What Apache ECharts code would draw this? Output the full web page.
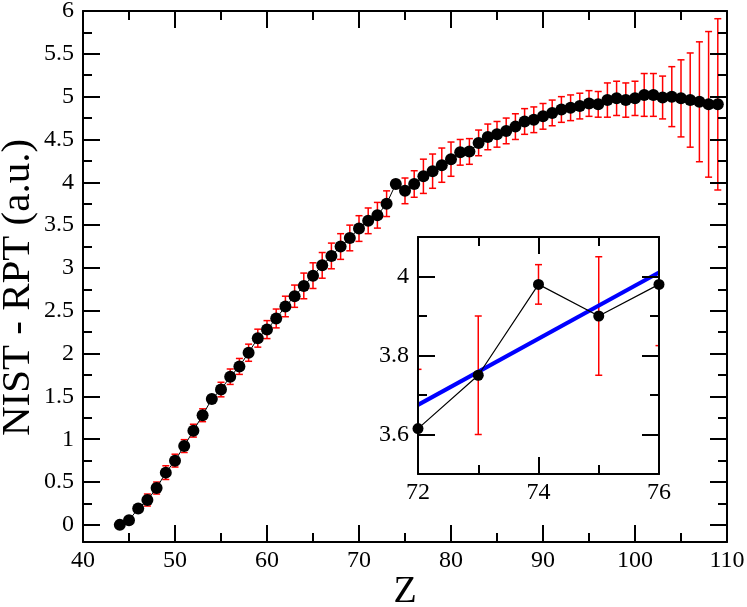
<!DOCTYPE html>
<html>
<head>
<meta charset="utf-8">
<script src="https://cdn.jsdelivr.net/npm/echarts@6/dist/echarts.min.js"></script>
<style>
  html, body { margin: 0; padding: 0; background: #fff; }
  #main { width: 747px; height: 607px; }
</style>
</head>
<body>
<div id="main"></div>
<script>
// atomic number Z and NIST - RPT difference, with error bars
var zValues = [44, 45, 46, 47, 48, 49, 50, 51, 52, 53, 54, 55, 56, 57, 58, 59, 60, 61, 62, 63,
  64, 65, 66, 67, 68, 69, 70, 71, 72, 73, 74, 75, 76, 77, 78, 79, 80, 81, 82, 83,
  84, 85, 86, 87, 88, 89, 90, 91, 92, 93, 94, 95, 96, 97, 98, 99, 100, 101, 102, 103,
  104, 105, 106, 107, 108, 109];
var diffValues = [0.00, 0.055, 0.19, 0.29, 0.43, 0.61, 0.75, 0.92, 1.10, 1.28, 1.47, 1.58, 1.73, 1.85, 2.01, 2.18, 2.28, 2.41, 2.55, 2.67,
  2.79, 2.91, 3.03, 3.14, 3.25, 3.35, 3.46, 3.55, 3.615, 3.75, 3.98, 3.90, 3.98, 4.07, 4.13, 4.20, 4.27, 4.35, 4.36, 4.46,
  4.53, 4.56, 4.60, 4.65, 4.71, 4.73, 4.77, 4.81, 4.85, 4.87, 4.89, 4.92, 4.91, 4.96, 4.98, 4.96, 4.98, 5.02, 5.02, 4.99,
  5.00, 4.98, 4.96, 4.94, 4.91, 4.91];
var errValues = [0, 0.02, 0.04, 0.07, 0.07, 0.08, 0.075, 0.075, 0.075, 0.075, 0.03, 0.085, 0.09, 0.093, 0.10, 0.105, 0.105, 0.11, 0.12, 0.13,
  0.15, 0.15, 0.15, 0.15, 0.15, 0.15, 0.15, 0.15, 0.15, 0.15, 0.05, 0.15, 0.155, 0.20, 0.20, 0.20, 0.20, 0.15, 0.15, 0.15,
  0.15, 0.15, 0.15, 0.15, 0.15, 0.15, 0.15, 0.15, 0.15, 0.15, 0.15, 0.15, 0.15, 0.20, 0.20, 0.20, 0.20, 0.25, 0.25, 0.25,
  0.35, 0.45, 0.55, 0.70, 0.85, 1.00];

// inset: zoom on Z = 72..76 with a linear fit
var insetRange = [72, 76];
var fitZ = [72, 76];
var fitValues = [3.675, 4.01];

// axis ranges and tick positions
var mainXRange = [40, 110];
var mainYRange = [-0.2, 6];
var insetYRange = [3.5, 4.1];
var mainXTicks = [40, 50, 60, 70, 80, 90, 100, 110];
var mainYMajor = [0, 0.5, 1, 1.5, 2, 2.5, 3, 3.5, 4, 4.5, 5, 5.5, 6];
var mainYMinor = [0.25, 0.75, 1.25, 1.75, 2.25, 2.75, 3.25, 3.75, 4.25, 4.75, 5.25, 5.75];
var insetXTicks = [72, 74, 76];
var insetYMajor = [3.6, 3.8, 4.0];
var insetYMinor = [3.5, 3.7, 3.9, 4.1];

var FONT = 'Liberation Serif';

var points = [], errPoints = [], insetPoints = [], insetErr = [];
for (var i = 0; i < zValues.length; i++) {
  points.push([zValues[i], diffValues[i]]);
  errPoints.push([zValues[i], diffValues[i], errValues[i]]);
  if (zValues[i] >= insetRange[0] && zValues[i] <= insetRange[1]) {
    insetPoints.push([zValues[i], diffValues[i]]);
    insetErr.push([zValues[i], diffValues[i], errValues[i]]);
  }
}
var fitLine = fitZ.map(function (z, k) { return [z, fitValues[k]]; });

function renderErr(params, api) {
  var x = api.value(0), y = api.value(1), e = api.value(2);
  if (!e) return null;
  var hi = api.coord([x, y + e]);
  var lo = api.coord([x, y - e]);
  var w = 3.5;
  var st = { stroke: '#ff0000', lineWidth: 1.5 };
  return {
    type: 'group',
    children: [
      { type: 'line', shape: { x1: hi[0], y1: hi[1], x2: lo[0], y2: lo[1] }, style: st },
      { type: 'line', shape: { x1: hi[0] - w, y1: hi[1], x2: hi[0] + w, y2: hi[1] }, style: st },
      { type: 'line', shape: { x1: lo[0] - w, y1: lo[1], x2: lo[0] + w, y2: lo[1] }, style: st }
    ]
  };
}

// tick labels drawn as text at axis coordinates (serif digits)
function tickLabelRender(dir) {
  return function (params, api) {
    var p = api.coord([api.value(0), api.value(1)]);
    var v = dir === 'x' ? api.value(0) : api.value(1);
    return {
      type: 'text',
      x: dir === 'x' ? p[0] : p[0] - 9,
      y: dir === 'x' ? p[1] + 19 : p[1],
      style: {
        text: String(v), fontFamily: FONT, fontSize: 24, fill: '#000',
        align: dir === 'x' ? 'center' : 'right', verticalAlign: 'middle'
      }
    };
  };
}

var axisLine = { onZero: false, lineStyle: { color: '#000', width: 2 } };

function xAx(grid, pos, min, max, interval) {
  return {
    type: 'value', gridIndex: grid, position: pos, min: min, max: max, interval: interval,
    z: 5,
    axisLine: axisLine,
    axisTick: { inside: true, length: 17, lineStyle: { color: '#000', width: 2 } },
    minorTick: { show: true, splitNumber: 2, length: 9, lineStyle: { color: '#000', width: 2 } },
    axisLabel: { show: false },
    splitLine: { show: false },
    minorSplitLine: { show: false }
  };
}

function yAx(grid, pos, range, ticks, major) {
  return {
    type: 'value', gridIndex: grid, position: pos, min: range[0], max: range[1],
    z: 5,
    axisLine: major ? axisLine : { show: false, onZero: false },
    axisTick: { inside: true, length: major ? 17 : 9, customValues: ticks, lineStyle: { color: '#000', width: 2 } },
    axisLabel: { show: false },
    splitLine: { show: false }
  };
}

var xMain = xAx(0, 'bottom', mainXRange[0], mainXRange[1], 10);
xMain.name = 'Z';
xMain.nameLocation = 'middle';
xMain.nameGap = 31;
xMain.nameTextStyle = { color: '#000', fontFamily: FONT, fontSize: 38 };

var yMain = yAx(0, 'left', mainYRange, mainYMajor, true);
yMain.name = 'NIST - RPT (a.u.)';
yMain.nameLocation = 'middle';
yMain.nameRotate = 90;
yMain.nameGap = 44;
yMain.nameTextStyle = { color: '#000', fontFamily: FONT, fontSize: 41, padding: [0, 22, 0, 0] };

var chart = echarts.init(document.getElementById('main'));
chart.setOption({
  animation: false,
  backgroundColor: '#fff',
  grid: [
    { left: 83, right: 20, top: 11, bottom: 65, containLabel: false, outerBoundsMode: 'none' },
    { left: 418, top: 237, width: 241, height: 237, show: true, backgroundColor: '#fff', borderWidth: 0, z: 1,
      containLabel: false, outerBoundsMode: 'none' }
  ],
  xAxis: [
    xMain,
    xAx(0, 'top', mainXRange[0], mainXRange[1], 10),
    xAx(1, 'bottom', insetRange[0], insetRange[1], 2),
    xAx(1, 'top', insetRange[0], insetRange[1], 2)
  ],
  yAxis: [
    yMain,
    yAx(0, 'left', mainYRange, mainYMinor, false),
    yAx(0, 'right', mainYRange, mainYMajor, true),
    yAx(0, 'right', mainYRange, mainYMinor, false),
    yAx(1, 'left', insetYRange, insetYMajor, true),
    yAx(1, 'left', insetYRange, insetYMinor, false),
    yAx(1, 'right', insetYRange, insetYMajor, true),
    yAx(1, 'right', insetYRange, insetYMinor, false)
  ],
  series: [
    {
      type: 'custom', xAxisIndex: 0, yAxisIndex: 0, z: 2,
      renderItem: renderErr, data: errPoints
    },
    {
      type: 'line', xAxisIndex: 0, yAxisIndex: 0, z: 3,
      data: points, symbol: 'circle', symbolSize: 12,
      itemStyle: { color: '#000' },
      lineStyle: { color: '#000', width: 1 }
    },
    {
      type: 'custom', xAxisIndex: 2, yAxisIndex: 4, z: 2, clip: true,
      renderItem: renderErr, data: insetErr
    },
    {
      type: 'line', xAxisIndex: 2, yAxisIndex: 4, z: 3,
      data: fitLine, symbol: 'none',
      lineStyle: { color: '#0000ff', width: 4 }
    },
    {
      type: 'line', xAxisIndex: 2, yAxisIndex: 4, z: 4,
      data: insetPoints, symbol: 'circle', symbolSize: 11,
      itemStyle: { color: '#000' },
      lineStyle: { color: '#000', width: 1.2 }
    },
    {
      type: 'custom', xAxisIndex: 0, yAxisIndex: 0, z: 10, silent: true,
      renderItem: tickLabelRender('x'),
      data: mainXTicks.map(function (v) { return [v, mainYRange[0]]; })
    },
    {
      type: 'custom', xAxisIndex: 0, yAxisIndex: 0, z: 10, silent: true,
      renderItem: tickLabelRender('y'),
      data: mainYMajor.map(function (v) { return [mainXRange[0], v]; })
    },
    {
      type: 'custom', xAxisIndex: 2, yAxisIndex: 4, z: 10, silent: true,
      renderItem: tickLabelRender('x'),
      data: insetXTicks.map(function (v) { return [v, insetYRange[0]]; })
    },
    {
      type: 'custom', xAxisIndex: 2, yAxisIndex: 4, z: 10, silent: true,
      renderItem: tickLabelRender('y'),
      data: insetYMajor.map(function (v) { return [insetRange[0], v]; })
    }
  ]
});
</script>
</body>
</html>
